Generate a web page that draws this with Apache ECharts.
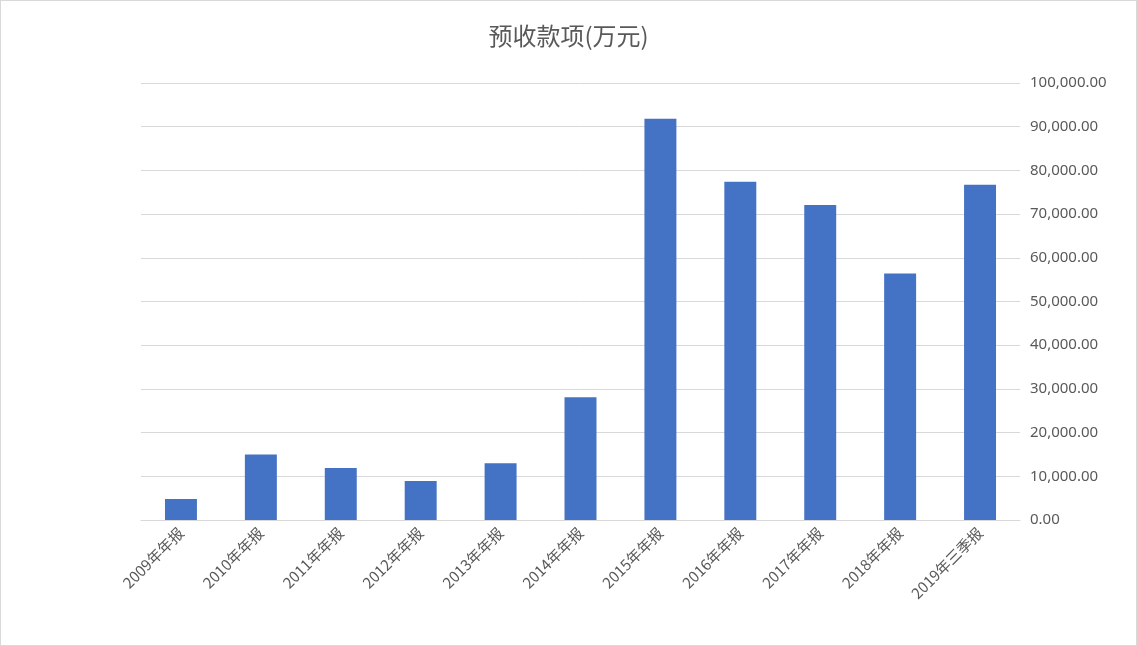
<!DOCTYPE html>
<html><head><meta charset="utf-8">
<script src="https://cdn.jsdelivr.net/npm/echarts@6/dist/echarts.min.js"></script>
<style>html,body{margin:0;padding:0;background:#fff}#c{width:1137px;height:646px;box-sizing:border-box;border:1px solid #d9d9d9}</style>
</head><body><div id="c"></div>
<script>
const categories = ['2009年年报','2010年年报','2011年年报','2012年年报','2013年年报','2014年年报','2015年年报','2016年年报','2017年年报','2018年年报','2019年三季报'];
const values = [4800,15000,11900,8900,13000,28100,91800,77400,72100,56400,76700];
const chart = echarts.init(document.getElementById('c'));
chart.setOption({
  animation:false,
  title:{text:'预收款项(万元)',left:'center',top:18,textStyle:{fontFamily:'Noto Sans CJK SC',fontSize:24,fontWeight:'normal',color:'#595959'}},
  grid:{left:140,right:116,top:82,bottom:125},
  xAxis:{type:'category',data:categories,axisTick:{show:false},
    axisLine:{lineStyle:{color:'#d9d9d9'}},
    axisLabel:{rotate:45,interval:0,color:'#595959',fontSize:15,fontFamily:'Noto Sans CJK SC',margin:10}},
  yAxis:{type:'value',position:'right',min:0,max:100000,interval:10000,
    axisLine:{show:false},axisTick:{show:false},
    splitLine:{lineStyle:{color:'#d9d9d9'}},
    axisLabel:{color:'#595959',fontSize:15,fontFamily:'Noto Sans',margin:10,
      formatter:v=>v.toLocaleString('en-US',{minimumFractionDigits:2,maximumFractionDigits:2})}},
  series:[{type:'bar',data:values,barWidth:'40%',itemStyle:{color:'#4472c4'}}]
});
</script></body></html>
